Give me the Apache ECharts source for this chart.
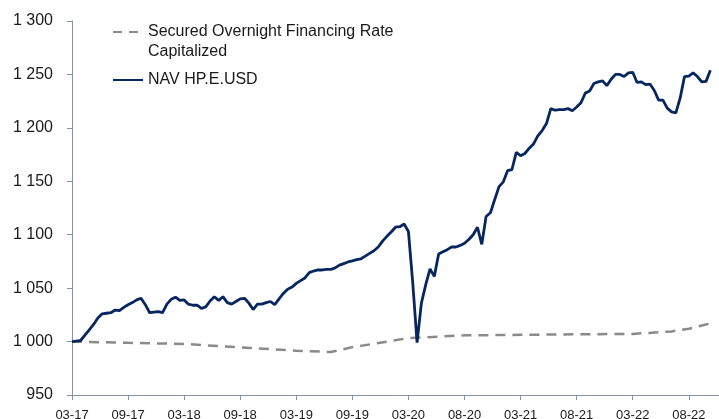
<!DOCTYPE html>
<html>
<head>
<meta charset="utf-8">
<script src="https://cdn.jsdelivr.net/npm/echarts@6/dist/echarts.min.js"></script>
<style>
html,body{margin:0;padding:0;background:#fff;}
#chart{width:719px;height:419px;}
</style>
</head>
<body>
<div id="chart"></div>
<script>
// Tick labels shown on the x axis, one every 13 points
const tickLabels = ['03-17','09-17','03-18','09-18','03-19','09-19','03-20','08-20','03-21','08-21','03-22','08-22'];
const labelStep = 13;
const categoryCount = 151;

// NAV HP.E.USD (roughly bi-weekly)
const navValues = [
  1000, 1000.5, 1001, 1006, 1011, 1016, 1022, 1026, 1026.5, 1027,
  1029.5, 1029, 1032, 1034.5, 1036.5, 1039, 1040.5, 1034.5, 1027, 1027.5,
  1028, 1027, 1035, 1039.5, 1041.5, 1038.5, 1039, 1035, 1034, 1034,
  1031, 1032.5, 1038, 1042, 1038.5, 1042, 1036.5, 1035, 1037.5, 1040,
  1040.5, 1036, 1030, 1035, 1035, 1036.4, 1037.5, 1034.5, 1040, 1045,
  1049, 1051, 1054.5, 1057, 1059.5, 1064.5, 1066, 1067, 1067, 1067.5,
  1067.5, 1069, 1071.5, 1073, 1074.5, 1075.5, 1076.7, 1077.5, 1080, 1082.5,
  1085, 1088.5, 1094, 1098.5, 1102.5, 1107, 1107.5, 1110, 1103, 1055,
  999, 1036, 1053, 1068, 1061, 1082, 1084, 1086, 1088.5, 1088.5,
  1090, 1092, 1095.5, 1100, 1107, 1091, 1117, 1120.5, 1133, 1145,
  1149.5, 1160, 1161, 1177, 1174, 1176, 1181, 1185, 1192.5, 1197.5,
  1204, 1218, 1216.5, 1217, 1217, 1218, 1216, 1219.5, 1223.5, 1232.5,
  1234.5, 1241.5, 1243, 1244, 1239.5, 1245.5, 1250, 1250, 1248, 1251.5,
  1252, 1242.5, 1243, 1240.5, 1241, 1235, 1226, 1226, 1218.5, 1215,
  1214, 1228, 1248, 1248.5, 1251.5, 1248, 1243, 1243.5, 1254
];

// Secured Overnight Financing Rate Capitalized: [point index, value]
const sofrIndex  = [0, 13, 26, 39, 52, 60, 65, 71, 78, 91, 104, 117, 130, 139, 143, 148];
const sofrValues = [1000, 998.8, 997.8, 994.5, 991.5, 990.2, 994.8, 998.6, 1003.3, 1005.8, 1006.3, 1006.8, 1007.2, 1009.5, 1012, 1017];

const seriesNames = ['Secured Overnight Financing Rate Capitalized', 'NAV HP.E.USD'];
const legendLines = {
  'Secured Overnight Financing Rate Capitalized': ['Secured Overnight Financing Rate', 'Capitalized'],
  'NAV HP.E.USD': ['NAV HP.E.USD']
};

const categories = [];
for (let i = 0; i < categoryCount; i++) categories.push(String(i));
const sofrData = new Array(navValues.length).fill(null);
sofrIndex.forEach((idx, k) => { sofrData[idx] = sofrValues[k]; });

const axisColor = '#8394a8';
const font = 'Liberation Sans, Arial, sans-serif';
const legendText = {fontFamily: font, fontSize: 16, color: '#1a1a1a', lineHeight: 20};

const chart = echarts.init(document.getElementById('chart'), null, {renderer: 'canvas'});
chart.setOption({
  animation: false,
  backgroundColor: '#ffffff',
  grid: {left: 72, right: 0, top: 21, bottom: 24, outerBoundsMode: 'none', containLabel: false},
  legend: [
    {
      data: [seriesNames[0]],
      left: 112, top: 2, padding: 0,
      itemWidth: 30, itemHeight: 14, itemGap: 0,
      itemStyle: {opacity: 0},
      lineStyle: {type: [9, 7]},
      // blank first line keeps the icon level with the first text line
      formatter: name => ' \n' + legendLines[name].join('\n'),
      textStyle: legendText
    },
    {
      data: [seriesNames[1]],
      left: 112, top: 70, padding: 0,
      itemWidth: 30, itemHeight: 14, itemGap: 0,
      itemStyle: {opacity: 0},
      formatter: name => legendLines[name].join('\n'),
      textStyle: legendText
    }
  ],
  xAxis: {
    type: 'category',
    data: categories,
    boundaryGap: false,
    axisLine: {lineStyle: {color: axisColor, width: 1}},
    axisTick: {show: true, interval: labelStep - 1, length: 5, lineStyle: {color: axisColor}},
    axisLabel: {
      interval: labelStep - 1,
      margin: 14,
      fontFamily: font, fontSize: 13, color: '#1a1a1a',
      formatter: (v, idx) => (idx % labelStep === 0 && tickLabels[idx / labelStep]) ? tickLabels[idx / labelStep] : ''
    },
    splitLine: {show: false}
  },
  yAxis: {
    type: 'value',
    min: 950, max: 1300, interval: 50,
    axisLine: {show: true, lineStyle: {color: axisColor, width: 1}},
    axisTick: {show: true, length: 5, lineStyle: {color: axisColor}},
    axisLabel: {
      margin: 19,
      fontFamily: font, fontSize: 16, color: '#1a1a1a',
      formatter: v => String(v).replace(/\B(?=(\d{3})+(?!\d))/g, ' ')
    },
    splitLine: {show: false}
  },
  series: [
    {
      name: seriesNames[0],
      type: 'line',
      data: sofrData,
      connectNulls: true,
      showSymbol: false, symbol: 'none',
      lineStyle: {color: '#8a8a8a', width: 2.5, type: [10, 7]},
      itemStyle: {color: '#8a8a8a'},
      z: 2
    },
    {
      name: seriesNames[1],
      type: 'line',
      data: navValues,
      showSymbol: false, symbol: 'none',
      lineStyle: {color: '#062660', width: 2.8},
      itemStyle: {color: '#062660'},
      z: 3
    }
  ]
});
</script>
</body>
</html>
